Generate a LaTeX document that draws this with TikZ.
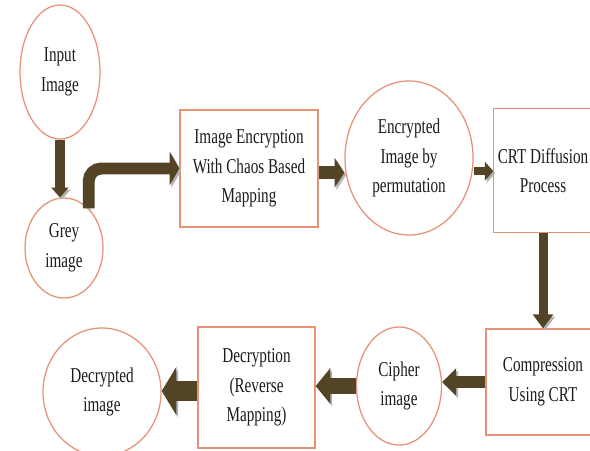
\documentclass[tikz,border=0pt]{standalone}
\usepackage{fontspec}
\setmainfont{Liberation Serif}[FakeStretch=0.72]
\usetikzlibrary{shapes.geometric,arrows.meta}

\definecolor{rim}{RGB}{231,146,118}
\definecolor{shaft}{RGB}{84,68,38}
\definecolor{txt}{RGB}{30,26,24}

\begin{document}
\begin{tikzpicture}[x=0.025cm,y=-0.025cm,
  blob/.style={ellipse,draw=rim,line width=0.9pt,inner sep=0pt,align=center,text=txt,
    font=\fontsize{15}{21}\selectfont},
  stage/.style={rectangle,draw=rim,line width=0.9pt,inner sep=0pt,align=center,text=txt,
    font=\fontsize{15}{21}\selectfont},
  fat/.style={draw=shaft,preaction={draw=black!30,transform canvas={shift={(1.3pt,-1.6pt)}}}}]
\useasboundingbox (0,0) rectangle (590,450);
% top row
\node[blob, minimum width=2cm, minimum height=3.35cm] (in) at (60,72) {Input\\Image};
\node[blob, minimum width=1.95cm, minimum height=2.5cm] (grey) at (64,248) {Grey\\image};
\node[stage, minimum width=3.45cm, minimum height=2.925cm] (enc) at (249,168.5) {Image Encryption\\With Chaos Based\\Mapping};
\node[blob, minimum width=3.2cm, minimum height=3.85cm] (perm) at (409,158) {Encrypted\\Image by\\permutation};
\node[stage, draw=none, minimum width=2.45cm, minimum height=3.075cm] (crt) at (543,170.5) {CRT Diffusion\\Process};
\draw[rim, line width=0.9pt] (crt.north west) rectangle ([xshift=8pt]crt.south east);
% bottom row
\node[stage, minimum width=2.85cm, minimum height=2.65cm] (comp) at (543,382) {Compression\\Using CRT};
\node[blob, minimum width=2.125cm, minimum height=2.95cm] (ciph) at (399,386) {Cipher\\image};
\node[stage, minimum width=2.925cm, minimum height=3.025cm] (dec) at (256.5,387.5) {Decryption\\(Reverse\\Mapping)};
\node[blob, minimum width=2.95cm, minimum height=3.2cm] (out) at (102,392) {Decrypted\\image};
% fat arrows
\draw[fat, line width=7pt, -{Triangle[length=7pt,width=12pt]}] (in.south) -- (in.south |- grey.north);
\draw[fat, line width=8.5pt, rounded corners=9pt, -{Triangle[length=7pt,width=24pt]}] (grey.58) |- (enc.west);
\draw[fat, line width=9pt, -{Triangle[length=7pt,width=21pt]}] ([yshift=-3pt]enc.east) -- ([yshift=-3pt]enc.east -| perm.west);
\draw[fat, line width=6pt, -{Triangle[length=6pt,width=13pt]}] ([yshift=-0.5pt]crt.west -| perm.east) -- ([yshift=-0.5pt]crt.west);
\draw[fat, line width=6.4pt, -{Triangle[length=10pt,width=14pt]}] (crt.south) -- (comp.north);
\draw[fat, line width=8.5pt, -{Triangle[length=10pt,width=19pt]}] (comp.west) -- (comp.west -| ciph.east);
\draw[fat, line width=11pt, -{Triangle[length=10.5pt,width=25pt]}] (ciph.west) -- (ciph.west -| dec.east);
\draw[fat, line width=14pt, -{Triangle[length=10.5pt,width=34pt]}] ([yshift=-2.5pt]dec.west) -- ([yshift=-2.5pt]dec.west -| out.east);
\end{tikzpicture}
\end{document}
